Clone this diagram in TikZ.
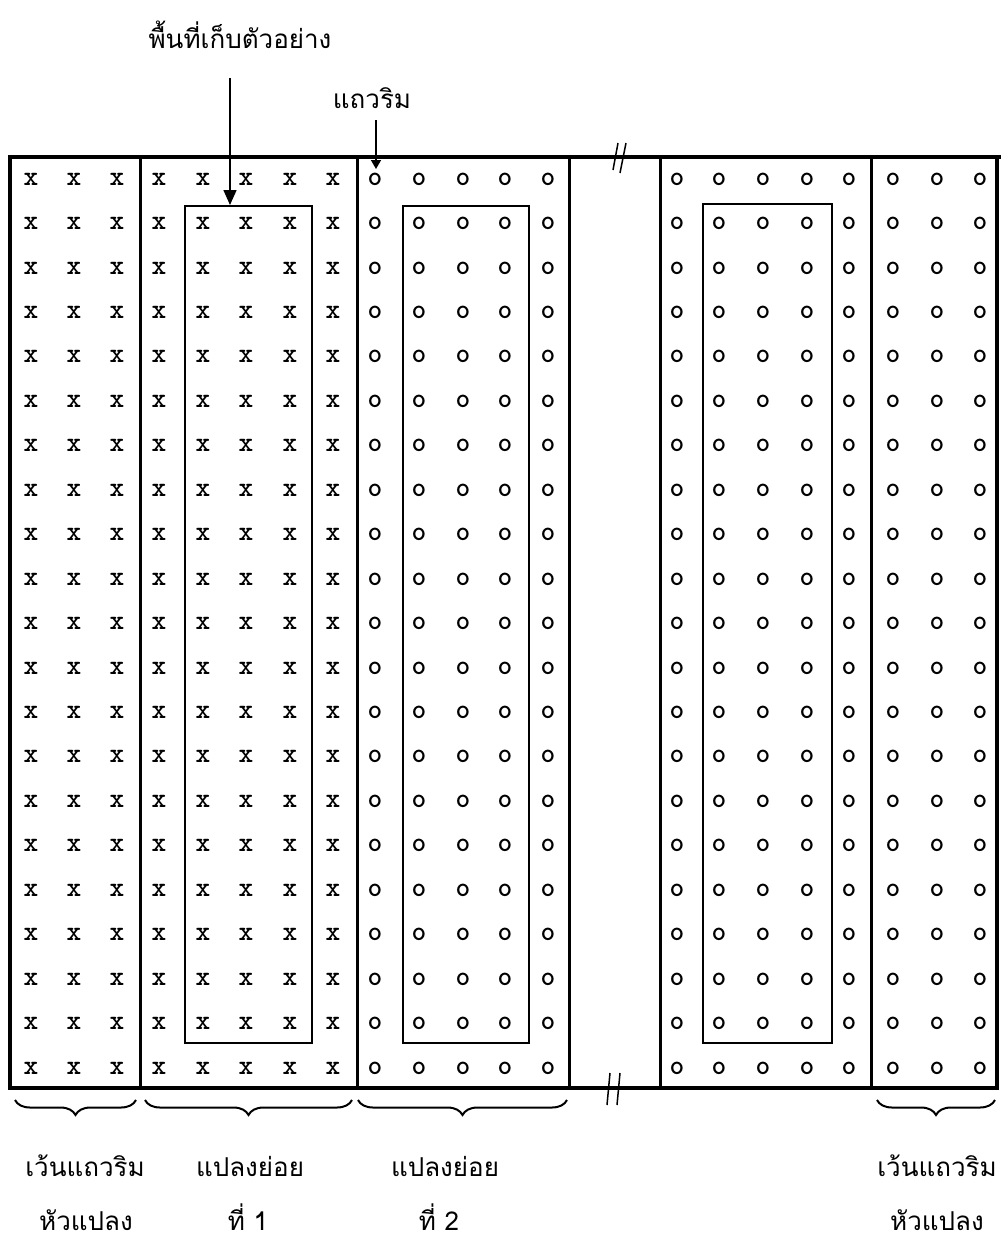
\documentclass[tikz,border=0pt]{standalone}
\usepackage{fontspec}
\newfontfamily\thaifont[Script=Thai]{Loma}
\usetikzlibrary{arrows.meta,decorations.pathreplacing}
\begin{document}
\begin{tikzpicture}[x=1pt,y=-1pt,
  thai/.style={font=\thaifont\fontsize{26}{30}\selectfont, inner sep=0pt, anchor=base},
  plant/.style={font=\ttfamily\bfseries\fontsize{28}{28}\selectfont, inner sep=0pt},
  frame/.style={line width=4pt, line join=miter},
  divider/.style={line width=3pt},
  innerbox/.style={line width=1.6pt},
  pointer/.style={line width=1.5pt, -{Triangle[length=15pt,width=13pt]}},
  smallpointer/.style={line width=1.5pt, -{Triangle[length=9pt,width=10pt]}},
  brk/.style={line width=1.5pt},
  brc/.style={line width=2pt, decorate, decoration={brace, amplitude=15pt, mirror}}]
\useasboundingbox (0,0) rectangle (1001,1240);
% frame
\draw[frame] (1001,157) -- (10,157) -- (10,1088) -- (997,1088) -- (997,157);
\foreach \xx in {140,357,569,660,871}{
  \draw[divider] (\xx,157) -- (\xx,1088);
}
% inner sample areas
\draw[innerbox] (185,206) rectangle (312,1043);
\draw[innerbox] (403,206) rectangle (529,1043);
\draw[innerbox] (703,204) rectangle (832,1043);
% plants
\foreach \r in {0,...,20}{
  \foreach \cx [count=\c] in {31,74,117,159,203,246,290,333}{
    \node[plant] (x-\r-\c) at (\cx,{179+44.45*\r}) {x};
  }
  \foreach \cx [count=\c] in {375,419,463,505,548,677,719,763,807,849,893,937,980}{
    \node[plant] (o-\r-\c) at (\cx,{179+44.45*\r}) {o};
  }
}
% break marks
\draw[brk] (613,170) -- (618,143);
\draw[brk] (620,173) -- (626,143);
\draw[brk] (607,1105) -- (610,1073);
\draw[brk] (617,1105) -- (620,1073);
% top labels and pointers
\node[thai] (sample) at (240,48) {พื้นที่เก็บตัวอย่าง};
\node[thai] (edge) at (372,108) {แถวริม};
\coordinate (sampleA) at (230,78);
\coordinate (sampleB) at (230,205);
\coordinate (edgeA) at (376,120);
\coordinate (edgeB) at (376,169);
\draw[pointer] (sampleA) -- (sampleB);
\draw[smallpointer] (edgeA) -- (edgeB);
% braces
\draw[brc] (15,1100) -- (136,1100);
\draw[brc] (145,1100) -- (352,1100);
\draw[brc] (358,1100) -- (567,1100);
\draw[brc] (877,1100) -- (995,1100);
% bottom labels
\node[thai] (g1a) at (85,1176) {เว้นแถวริม};
\node[thai] (g1b) at (86,1230) {หัวแปลง};
\node[thai] (s1a) at (250,1176) {แปลงย่อย};
\node[thai] (s1b) at (248,1230) {ที่ 1};
\node[thai] (s2a) at (445,1176) {แปลงย่อย};
\node[thai] (s2b) at (439,1230) {ที่ 2};
\node[thai] (g2a) at (937,1176) {เว้นแถวริม};
\node[thai] (g2b) at (937,1230) {หัวแปลง};
\end{tikzpicture}
\end{document}
